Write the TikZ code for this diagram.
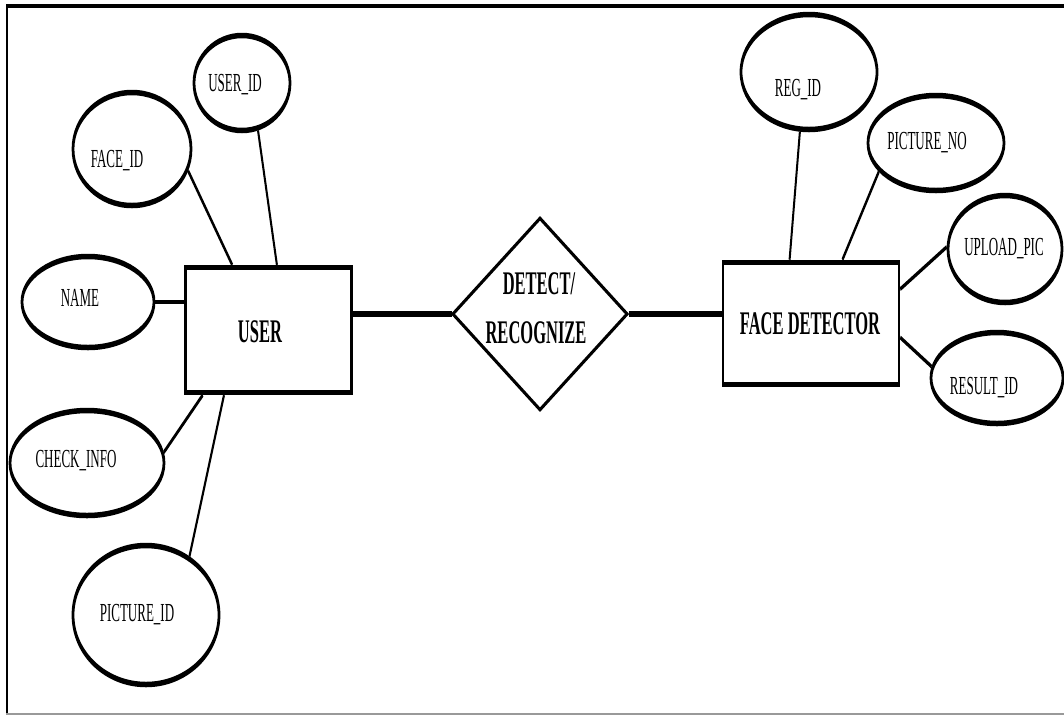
\documentclass[tikz,border=0pt]{standalone}
\usepackage{fontspec}
\setmainfont{Liberation Serif}
\usetikzlibrary{shapes.geometric,calc}
\tikzset{
  attr/.style={ellipse, draw, line width=5.5pt, inner sep=0pt},
  ent/.style={rectangle, draw, line width=5pt, inner sep=0pt},
  rel/.style={diamond, draw, line width=4pt, inner sep=0pt},
  link/.style={line width=4pt},
  strong/.style={line width=6pt},
  lbl/.style={inner sep=0pt, anchor=base, font=\fontsize{26}{30}\selectfont},
  blbl/.style={inner sep=0pt, anchor=base, font=\bfseries\fontsize{33}{38}\selectfont},
}
\begin{document}
\begin{tikzpicture}[x=1pt,y=-1pt]
\useasboundingbox (0,0) rectangle (1064,716);
\fill[white] (0,0) rectangle (1064,716);
% page frame
\draw[line width=4pt] (6,6.3) -- (1064,6.3);
\draw[line width=2pt] (7,4.3) -- (7,714);
\draw[line width=1.5pt, black!40] (6,714) -- (1064,714);
% the ER drawing, set in a horizontally condensed canvas
\begin{scope}[transform canvas={xscale=0.5}, x=2pt, y=-1pt]
  % entities and relationship
  \node[ent, minimum width=332pt, minimum height=125pt] (user) at (268.5,330) {};
  \node[ent, minimum width=352pt, minimum height=122.5pt] (fd) at (811,323.5) {};
  \node[rel, minimum width=350pt, minimum height=193pt] (rel) at (540,314) {};
  % attributes of USER
  \node[attr, minimum width=192pt, minimum height=95pt] (uid) at (242,83) {};
  \node[attr, minimum width=236pt, minimum height=113pt] (fid) at (132,149) {};
  \node[attr, minimum width=264pt, minimum height=91pt] (name) at (88,302) {};
  \node[attr, minimum width=308pt, minimum height=105pt] (chk) at (87,463) {};
  \node[attr, minimum width=292pt, minimum height=139pt] (pid) at (146,615) {};
  % attributes of FACE DETECTOR
  \node[attr, minimum width=272pt, minimum height=115pt] (reg) at (809,72) {};
  \node[attr, minimum width=272pt, minimum height=95pt] (pno) at (936,143) {};
  \node[attr, minimum width=228pt, minimum height=107pt] (upl) at (1005,249) {};
  \node[attr, minimum width=264pt, minimum height=91pt] (res) at (997,378) {};
  % labels
  \node[lbl] (uidt) at (235,91) {USER\_ID};
  \node[lbl] (fidt) at (117,167) {FACE\_ID};
  \node[lbl] (namet) at (80,306) {NAME};
  \node[lbl] (chkt) at (76,467) {CHECK\_INFO};
  \node[lbl] (pidt) at (137,621) {PICTURE\_ID};
  \node[lbl] (regt) at (798,96) {REG\_ID};
  \node[lbl] (pnot) at (927,149) {PICTURE\_NO};
  \node[lbl] (uplt) at (1004,255) {UPLOAD\_PIC};
  \node[lbl] (rest) at (984,394) {RESULT\_ID};
  \node[blbl] (usert) at (260,342) {USER};
  \node[blbl] (fdt) at (810,334) {FACE DETECTOR};
  \node[blbl] (relt1) at (539,294) {DETECT/};
  \node[blbl] (relt2) at (536,343) {RECOGNIZE};
  % attribute links
  \draw[link] (uid.-56) -- ($(user.north west)!0.55!(user.north east)$);
  \draw[link] (fid.-11) -- ($(user.north west)!0.285!(user.north east)$);
  \draw[link] (name.east) -- (name.east -| user.west);
  \draw[link] (chk.4) -- ($(user.south west)!0.11!(user.south east)$);
  \draw[link] (pid.34) -- ($(user.south west)!0.236!(user.south east)$);
  \draw[link] (reg.-107) -- ($(fd.north west)!0.38!(fd.north east)$);
  \draw[link] (pno.-166) -- ($(fd.north west)!0.676!(fd.north east)$);
  \draw[link] (upl.179) -- ($(fd.north east)!0.23!(fd.south east)$);
  \draw[link] (res.175) -- ($(fd.north east)!0.61!(fd.south east)$);
  % relationship links
  \draw[strong] (rel.west) -- (rel.west -| user.east);
  \draw[strong] (rel.east) -- (rel.east -| fd.west);
\end{scope}
\end{tikzpicture}
\end{document}
